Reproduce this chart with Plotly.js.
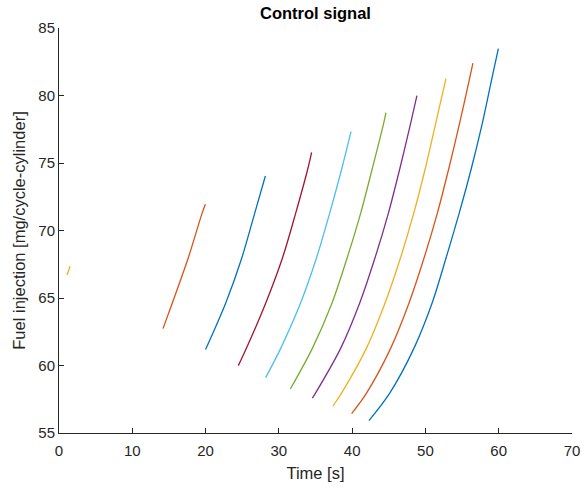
<!DOCTYPE html>
<html>
<head>
<meta charset="utf-8">
<script src="https://cdn.plot.ly/plotly-3.0.1.min.js"></script>
<style>html,body{margin:0;padding:0;background:#fff;}#chart{width:584px;height:489px;}</style>
</head>
<body>
<div id="chart"></div>
<script>
// Time [s] and fuel injection [mg/cycle-cylinder] for each control segment
const seg1X = [1.09, 1.30, 1.50];
const seg1Y = [66.70, 67.02, 67.35];
const seg2X = [14.19, 15.45, 17.62, 19.52, 19.97];
const seg2Y = [62.73, 64.61, 67.94, 71.27, 71.95];
const seg3X = [20.00, 22.74, 24.93, 26.70, 28.16];
const seg3Y = [61.18, 64.61, 67.94, 71.27, 74.04];
const seg4X = [24.47, 25.57, 28.20, 30.48, 32.29, 33.97, 34.47];
const seg4Y = [59.99, 61.27, 64.61, 67.94, 71.27, 74.61, 75.79];
const seg5X = [28.20, 30.25, 32.95, 35.12, 36.93, 38.60, 39.84];
const seg5Y = [59.10, 61.27, 64.61, 67.94, 71.27, 74.61, 77.33];
const seg6X = [31.57, 34.57, 37.24, 39.30, 41.16, 42.76, 44.30, 44.61];
const seg6Y = [58.26, 61.27, 64.61, 67.94, 71.27, 74.61, 77.94, 78.73];
const seg7X = [34.57, 34.98, 38.43, 41.02, 43.10, 44.94, 46.52, 47.98, 48.84];
const seg7Y = [57.59, 57.94, 61.27, 64.61, 67.94, 71.27, 74.61, 77.94, 79.99];
const seg8X = [37.38, 38.53, 41.94, 44.48, 46.58, 48.40, 49.99, 51.40, 52.80];
const seg8Y = [57.00, 57.94, 61.27, 64.61, 67.94, 71.27, 74.61, 77.94, 81.25];
const seg9X = [39.93, 41.94, 45.25, 47.75, 49.80, 51.62, 53.20, 54.66, 56.03, 56.48];
const seg9Y = [56.44, 57.94, 61.27, 64.61, 67.94, 71.27, 74.61, 77.94, 81.27, 82.39];
const seg10X = [42.29, 45.11, 48.43, 50.90, 52.80, 54.60, 56.27, 57.76, 59.07, 59.95];
const seg10Y = [55.92, 57.94, 61.27, 64.61, 67.94, 71.27, 74.61, 77.94, 81.27, 83.47];

const segX = [seg1X, seg2X, seg3X, seg4X, seg5X, seg6X, seg7X, seg8X, seg9X, seg10X];
const segY = [seg1Y, seg2Y, seg3Y, seg4Y, seg5Y, seg6Y, seg7Y, seg8Y, seg9Y, seg10Y];
const segColors = ['#EDB120', '#D95319', '#0072BD', '#A2142F', '#4DBEEE',
                   '#77AC30', '#7E2F8E', '#EDB120', '#D95319', '#0072BD'];

const xTicks = [0, 10, 20, 30, 40, 50, 60, 70];
const yTicks = [55, 60, 65, 70, 75, 80, 85];

const traces = segX.map((xs, i) => ({
  x: xs, y: segY[i], type: 'scatter', mode: 'lines',
  line: {color: segColors[i], width: 1.3, shape: 'spline', smoothing: 0.9},
  showlegend: false, hoverinfo: 'skip'
}));

const fontFam = '"Liberation Sans", Arial, Helvetica, sans-serif';
const axisCol = '#262626';

const layout = {
  width: 584, height: 489,
  margin: {l: 59, r: 11.5, t: 27.7, b: 56.3},
  paper_bgcolor: '#ffffff', plot_bgcolor: '#ffffff',
  font: {family: fontFam, color: axisCol, size: 15},
  title: {text: '<b>Control signal</b>', font: {family: fontFam, size: 16.5, color: '#000'},
          x: 0.5, xref: 'paper', xanchor: 'center', y: 1 - 13.5/489, yref: 'container', yanchor: 'middle'},
  xaxis: {
    range: [0, 70], tickvals: xTicks, ticktext: xTicks.map(String),
    showline: true, linecolor: axisCol, linewidth: 1, mirror: false,
    ticks: 'inside', ticklen: 5, tickcolor: axisCol, tickwidth: 1,
    showgrid: false, zeroline: false, ticklabelstandoff: 4,
    tickfont: {size: 15, color: axisCol},
    title: {text: 'Time [s]', font: {size: 16.5, color: axisCol}, standoff: 9}
  },
  yaxis: {
    range: [55, 85], tickvals: yTicks, ticktext: yTicks.map(String),
    showline: true, linecolor: axisCol, linewidth: 1, mirror: false,
    ticks: 'inside', ticklen: 5, tickcolor: axisCol, tickwidth: 1,
    showgrid: false, zeroline: false,
    tickfont: {size: 15, color: axisCol},
    title: {text: 'Fuel injection [mg/cycle-cylinder]', font: {size: 16.5, color: axisCol}, standoff: 8}
  }
};

Plotly.newPlot('chart', traces, layout, {displayModeBar: false, staticPlot: true});
</script>
</body>
</html>
